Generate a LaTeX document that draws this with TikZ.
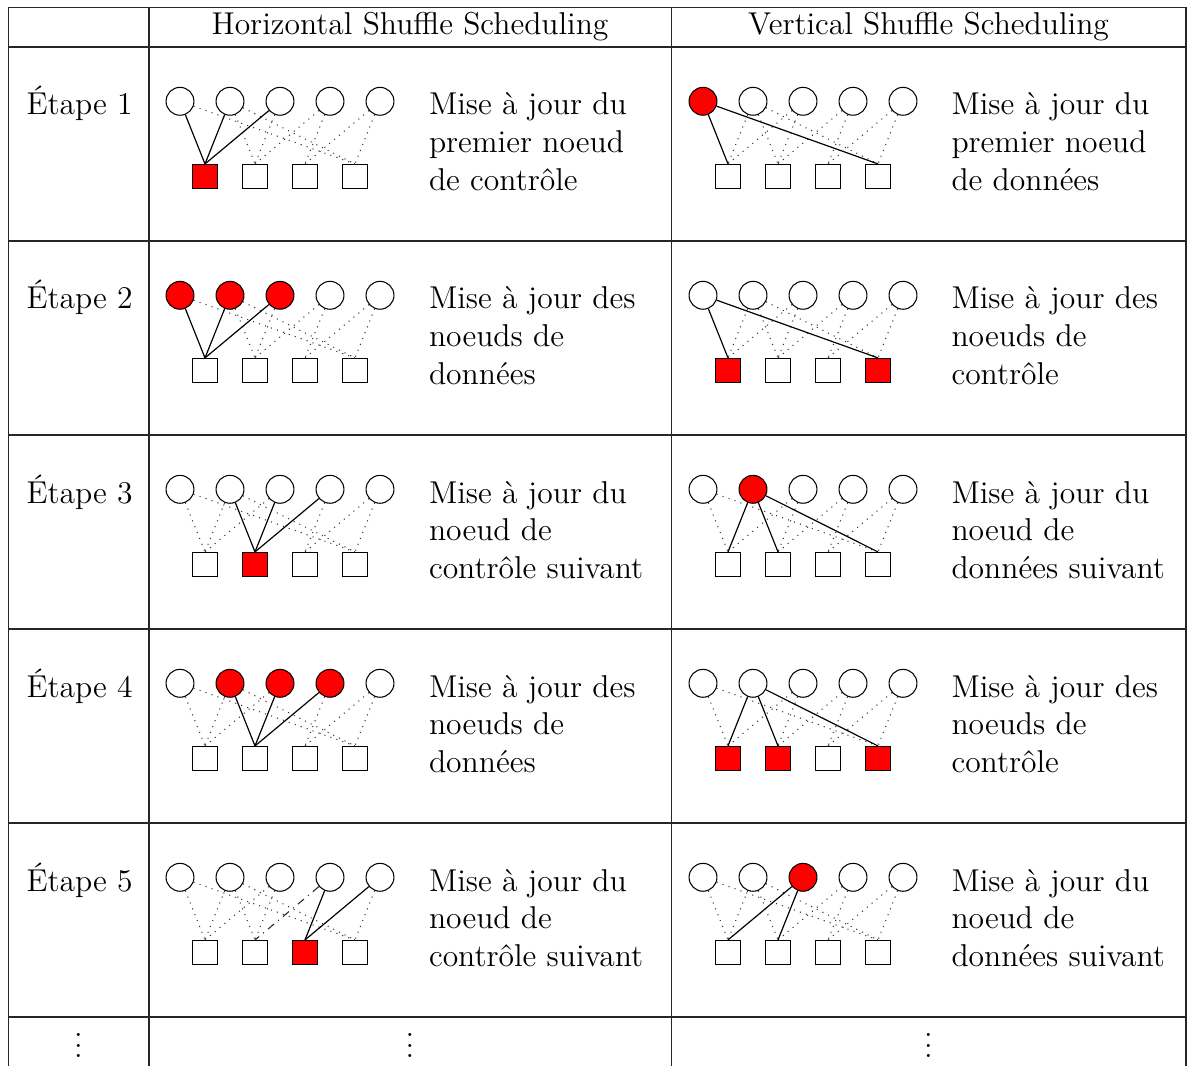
\documentclass[tikz,border=0pt]{standalone}
\tikzset{
 every node/.style={font=\fontsize{12}{14.4}\selectfont},
 vn/.style={circle, draw, minimum size=10.6pt, inner sep=0pt, line width=0.4pt},
 cn/.style={rectangle, draw, minimum size=9.3pt, inner sep=0pt, line width=0.4pt},
 on/.style={fill=red},
 off/.style={fill=white},
 dl/.style={dotted, line width=0.4pt, black!80},
 sl/.style={line width=0.45pt},
 ddl/.style={dash dot, line width=0.4pt, black!85},
 gridline/.style={line width=0.6pt, black!85},
 txt/.style={anchor=base west, inner sep=0pt},
}
% #1 prefix, #2 x offset, #3 y offset, #4 variable styles, #5 check styles, #6 edges
\newcommand\mkpanel[6]{%
 \foreach \i/\s in {#4} \node[vn,\s] (#1v\i) at ({#2+180+50*(\i-1)},{#3+101.3}) {};
 \foreach \j/\s in {#5} \node[cn,\s] (#1c\j) at ({#2+205+50*(\j-1)},{#3+176.7}) {};
 \foreach \a/\b/\s in {#6} \draw[\s] (#1v\a) -- (#1c\b.north);
}
\newcommand\lines[3]{\begin{tabular}[t]{@{}l@{}}#1\\#2\\#3\end{tabular}}
\begin{document}
\begin{tikzpicture}[x=0.38pt,y=-0.38pt]
\useasboundingbox (0,0) rectangle (1187,1066);
% grid
\foreach \yy in {7.3,47,241,435,629,823,1017}
  \draw[gridline] (8.3,\yy) -- (1186,\yy);
\foreach \xx in {8.3,148.8,671.3,1186}
  \draw[gridline] (\xx,7.3) -- (\xx,1066);
% headers
\node[anchor=base, inner sep=0pt] (hh) at (410,35) {Horizontal Shuffle Scheduling};
\node[anchor=base, inner sep=0pt] (vh) at (928.5,35) {Vertical Shuffle Scheduling};
% step labels
\foreach \k in {1,...,5}
  \node[txt] (st\k) at (26,{115+194*(\k-1)}) {Étape \k};
% descriptions
\node[txt] (ta) at (428.5,115) {\lines{Mise à jour du}{premier noeud}{de contrôle}};
\node[txt] (tb) at (428.5,309) {\lines{Mise à jour des}{noeuds de}{données}};
\node[txt] (tc) at (428.5,503) {\lines{Mise à jour du}{noeud de}{contrôle suivant}};
\node[txt] (td) at (428.5,697) {\lines{Mise à jour des}{noeuds de}{données}};
\node[txt] (te) at (428.5,891) {\lines{Mise à jour du}{noeud de}{contrôle suivant}};
\node[txt] (ua) at (951,115) {\lines{Mise à jour du}{premier noeud}{de données}};
\node[txt] (ub) at (951,309) {\lines{Mise à jour des}{noeuds de}{contrôle}};
\node[txt] (uc) at (951,503) {\lines{Mise à jour du}{noeud de}{données suivant}};
\node[txt] (ud) at (951,697) {\lines{Mise à jour des}{noeuds de}{contrôle}};
\node[txt] (ue) at (951,891) {\lines{Mise à jour du}{noeud de}{données suivant}};
% horizontal shuffle panels
\mkpanel{ha}{0}{0}{1/off,2/off,3/off,4/off,5/off}{1/on,2/off,3/off,4/off}
 {2/2/dl,3/2/dl,4/2/dl,4/3/dl,5/3/dl,1/4/dl,2/4/dl,5/4/dl,1/1/sl,2/1/sl,3/1/sl}
\mkpanel{hb}{0}{194}{1/on,2/on,3/on,4/off,5/off}{1/off,2/off,3/off,4/off}
 {2/2/dl,3/2/dl,4/2/dl,4/3/dl,5/3/dl,1/4/dl,2/4/dl,5/4/dl,1/1/sl,2/1/sl,3/1/sl}
\mkpanel{hc}{0}{388}{1/off,2/off,3/off,4/off,5/off}{1/off,2/on,3/off,4/off}
 {1/1/dl,2/1/dl,3/1/dl,4/3/dl,5/3/dl,1/4/dl,2/4/dl,5/4/dl,2/2/sl,3/2/sl,4/2/sl}
\mkpanel{hd}{0}{582}{1/off,2/on,3/on,4/on,5/off}{1/off,2/off,3/off,4/off}
 {1/1/dl,2/1/dl,3/1/dl,4/3/dl,5/3/dl,1/4/dl,2/4/dl,5/4/dl,2/2/sl,3/2/sl,4/2/sl}
\mkpanel{he}{0}{776}{1/off,2/off,3/off,4/off,5/off}{1/off,2/off,3/on,4/off}
 {1/1/dl,2/1/dl,3/1/dl,2/2/dl,3/2/dl,1/4/dl,2/4/dl,5/4/dl,4/2/ddl,4/3/sl,5/3/sl}
% vertical shuffle panels
\mkpanel{va}{523}{0}{1/on,2/off,3/off,4/off,5/off}{1/off,2/off,3/off,4/off}
 {2/1/dl,3/1/dl,2/2/dl,3/2/dl,4/2/dl,4/3/dl,5/3/dl,2/4/dl,5/4/dl,1/1/sl,1/4/sl}
\mkpanel{vb}{523}{194}{1/off,2/off,3/off,4/off,5/off}{1/on,2/off,3/off,4/on}
 {2/1/dl,3/1/dl,2/2/dl,3/2/dl,4/2/dl,4/3/dl,5/3/dl,2/4/dl,5/4/dl,1/1/sl,1/4/sl}
\mkpanel{vc}{523}{388}{1/off,2/on,3/off,4/off,5/off}{1/off,2/off,3/off,4/off}
 {1/1/dl,3/1/dl,3/2/dl,4/2/dl,4/3/dl,5/3/dl,1/4/dl,5/4/dl,2/1/sl,2/2/sl,2/4/sl}
\mkpanel{vd}{523}{582}{1/off,2/off,3/off,4/off,5/off}{1/on,2/on,3/off,4/on}
 {1/1/dl,3/1/dl,3/2/dl,4/2/dl,4/3/dl,5/3/dl,1/4/dl,5/4/dl,2/1/sl,2/2/sl,2/4/sl}
\mkpanel{ve}{523}{776}{1/off,2/off,3/on,4/off,5/off}{1/off,2/off,3/off,4/off}
 {1/1/dl,2/1/dl,2/2/dl,4/2/dl,4/3/dl,5/3/dl,1/4/dl,2/4/dl,5/4/dl,3/1/sl,3/2/sl}
% continuation dots
\node[anchor=base, inner sep=0pt] (d1) at (78.5,1057.7) {$\vdots$};
\node[anchor=base, inner sep=0pt] (d2) at (410,1057.7) {$\vdots$};
\node[anchor=base, inner sep=0pt] (d3) at (928.5,1057.7) {$\vdots$};
\end{tikzpicture}
\end{document}
